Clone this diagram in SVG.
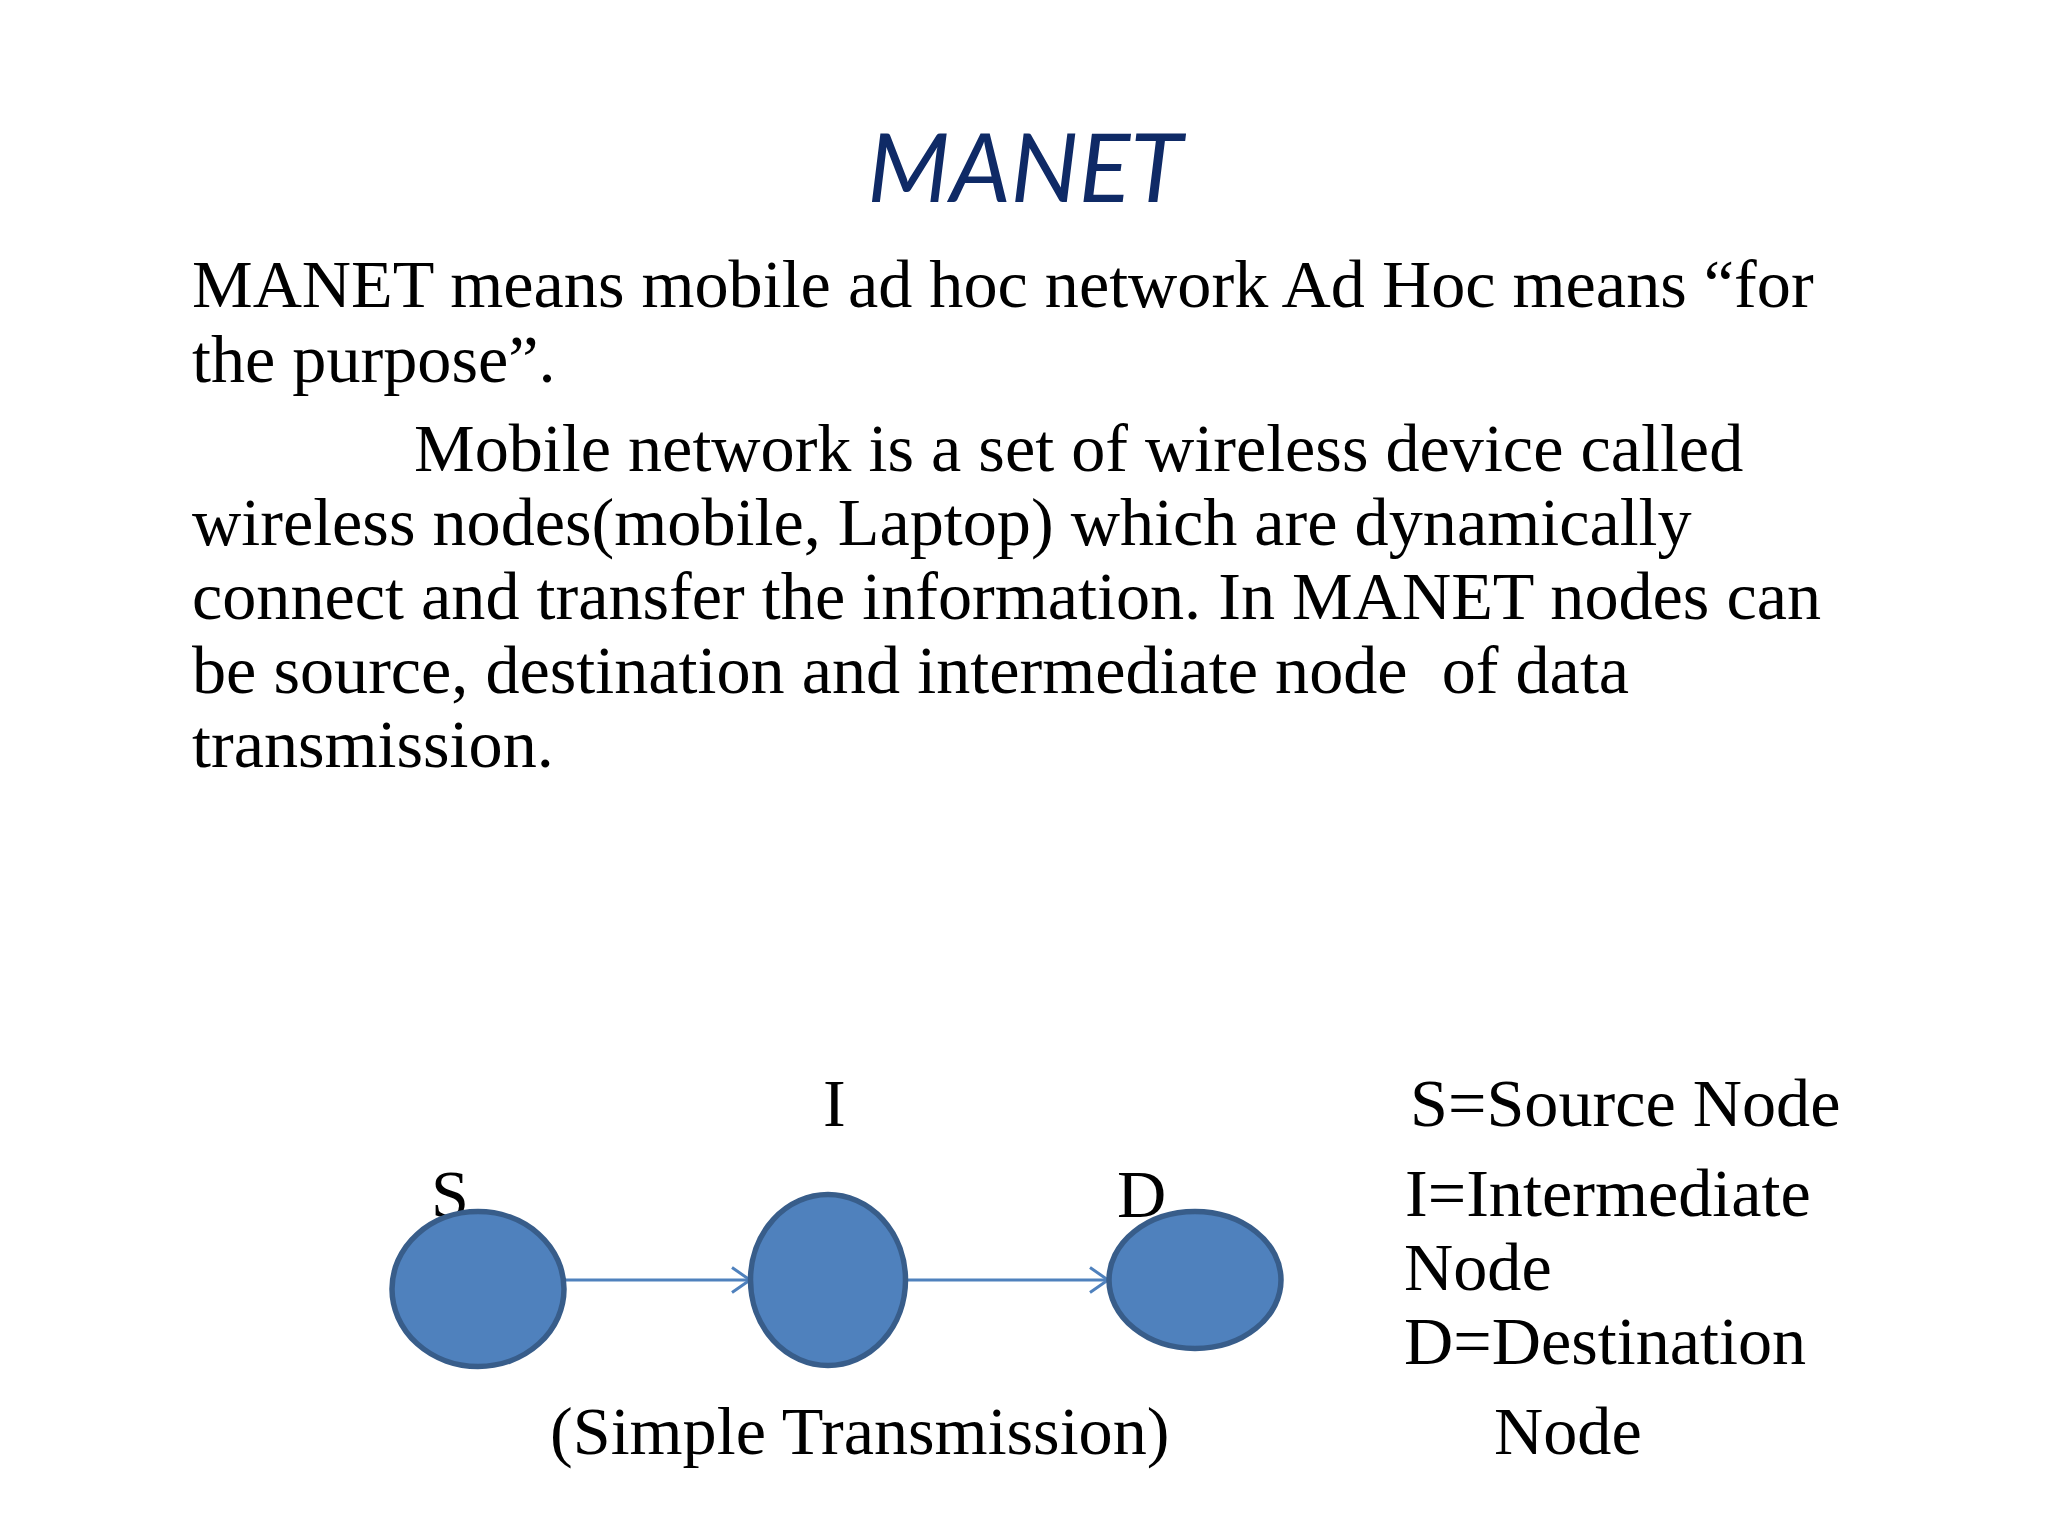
<svg xmlns="http://www.w3.org/2000/svg" width="2048" height="1536" viewBox="0 0 2048 1536">
<defs>
<style>
text{font-family:"Liberation Serif","Times New Roman",serif;font-size:68.2px;fill:#000}
text.title{font-family:"Lato","Noto Sans",sans-serif;font-style:italic;font-size:96px;fill:#0f2a66}
.n{fill:#4f81bd;stroke:#385d8a;stroke-width:5.5}
.c{stroke:#4f81bd;stroke-width:3;fill:none}
</style>
<marker id="a" markerUnits="userSpaceOnUse" markerWidth="24" markerHeight="28" refX="20" refY="14" orient="auto"><path d="M2 1.500L20 14L2 26.500" fill="none" stroke="#4f81bd" stroke-width="3"/></marker>
</defs>
<rect width="2048" height="1536" fill="#fff"/>
<text class="title" x="1025" y="202" text-anchor="middle">MANET</text>
<g id="body">
<text x="192" y="307">MANET means mobile ad hoc network Ad Hoc means “for</text>
<text x="192" y="382">the purpose”.</text>
<text x="414" y="471">Mobile network is a set of wireless device called</text>
<text x="192" y="545">wireless nodes(mobile, Laptop) which are dynamically</text>
<text x="192" y="619">connect and transfer the information. In MANET nodes can</text>
<text x="192" y="693" xml:space="preserve">be source, destination and intermediate node  of data</text>
<text x="192" y="767">transmission.</text>
</g>
<g id="connectors">
<line class="c" x1="565" y1="1280" x2="750" y2="1280" marker-end="url(#a)"/>
<line class="c" x1="907" y1="1280" x2="1108" y2="1280" marker-end="url(#a)"/>
</g>
<g id="node-S"><text x="431" y="1217">S</text><ellipse class="n" cx="478" cy="1289" rx="86" ry="77.500"/></g>
<g id="node-I"><text x="823" y="1126">I</text><ellipse class="n" cx="828" cy="1280" rx="77.500" ry="85.500"/></g>
<g id="node-D"><text x="1117" y="1217">D</text><ellipse class="n" cx="1195" cy="1280" rx="86" ry="68.500"/></g>
<g id="legend">
<text x="1410" y="1126">S=Source Node</text>
<text x="1405" y="1216">I=Intermediate</text>
<text x="1404" y="1290">Node</text>
<text x="1404" y="1364">D=Destination</text>
<text x="1494" y="1454">Node</text>
</g>
<text id="caption" x="550" y="1454">(Simple Transmission)</text>
</svg>
